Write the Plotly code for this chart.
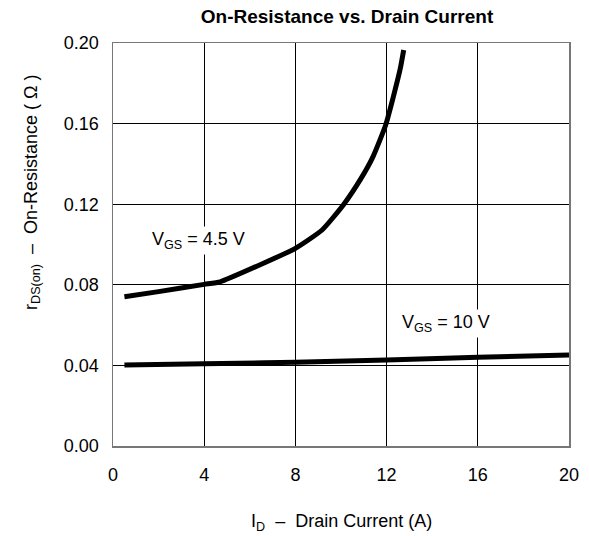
import plotly.graph_objects as go

# Data
id_45 = [0.5, 2.0, 4.0, 4.7, 6.6, 8.0, 9.17, 10.1, 10.88, 11.4, 11.96, 12.3, 12.6, 12.75]
r_45 = [0.0741, 0.0766, 0.0802, 0.0815, 0.0907, 0.0981, 0.1072, 0.1196, 0.1328, 0.1435,
        0.1593, 0.1735, 0.1873, 0.1965]

id_10 = [0.5, 4.0, 8.0, 12.0, 16.0, 20.0]
r_10 = [0.0402, 0.0408, 0.0416, 0.0427, 0.0440, 0.0452]

x_ticks = [0, 4, 8, 12, 16, 20]
y_ticks = [0.00, 0.04, 0.08, 0.12, 0.16, 0.20]
y_tick_labels = ["0.00", "0.04", "0.08", "0.12", "0.16", "0.20"]

FONT = "Liberation Sans, Arial, Helvetica, sans-serif"

W, H = 589, 536

fig = go.Figure()
fig.add_trace(go.Scatter(x=id_45, y=r_45, mode="lines",
                         line=dict(color="black", width=5, shape="spline", smoothing=0.5),
                         showlegend=False, hoverinfo="skip"))
fig.add_trace(go.Scatter(x=id_10, y=r_10, mode="lines",
                         line=dict(color="black", width=5, shape="spline"),
                         showlegend=False, hoverinfo="skip"))

fig.add_annotation(x=3.73, y=0.102, xref="x", yref="y",
                   text="V<sub>GS</sub> = 4.5 V", showarrow=False,
                   font=dict(family=FONT, size=18, color="black"),
                   bgcolor="white", borderpad=2)
fig.add_annotation(x=14.6, y=0.061, xref="x", yref="y",
                   text="V<sub>GS</sub> = 10 V", showarrow=False,
                   font=dict(family=FONT, size=18, color="black"),
                   bgcolor="white", borderpad=2)

# Axis titles
fig.add_annotation(x=-0.178, y=0.63, xref="paper", yref="paper",
                   xanchor="center", yanchor="middle",
                   text="r<sub>DS(on)</sub>  \u2013  On-Resistance ( \u03a9 )",
                   textangle=-90, showarrow=False,
                   font=dict(family=FONT, size=18, color="black"))
fig.add_annotation(x=0.5, y=-0.189, xref="paper", yref="paper",
                   xanchor="center", yanchor="middle",
                   text="I<sub>D</sub>  \u2013  Drain Current (A)",
                   showarrow=False, font=dict(family=FONT, size=18, color="black"))

fig.update_layout(
    width=W, height=H,
    margin=dict(l=113, r=10, t=43, b=90),
    paper_bgcolor="white", plot_bgcolor="white",
    title=dict(text="<b>On-Resistance vs. Drain Current</b>", x=347 / W, xanchor="center",
               y=1 - 16 / H, yanchor="middle",
               font=dict(family=FONT, size=19, color="black")),
    font=dict(family=FONT, size=18, color="black"),
)
fig.update_xaxes(range=[0, 20], tickvals=x_ticks, showgrid=True, gridcolor="black", gridwidth=1,
                 zeroline=False, showline=True, linecolor="#777", linewidth=1.5, mirror=True,
                 ticks="", ticklabelstandoff=12, tickfont=dict(family=FONT, size=18, color="black"))
fig.update_yaxes(range=[0, 0.2], tickvals=y_ticks, ticktext=y_tick_labels, showgrid=True,
                 gridcolor="black", gridwidth=1, zeroline=False, showline=True, linecolor="#777",
                 linewidth=1.5, mirror=True, ticks="", ticklabelstandoff=9,
                 tickfont=dict(family=FONT, size=18, color="black"))

fig.write_html(
    "out.html",
    config={"displayModeBar": False, "staticPlot": True},
    post_script="document.body.style.margin='0';document.body.style.overflow='hidden';",
)
